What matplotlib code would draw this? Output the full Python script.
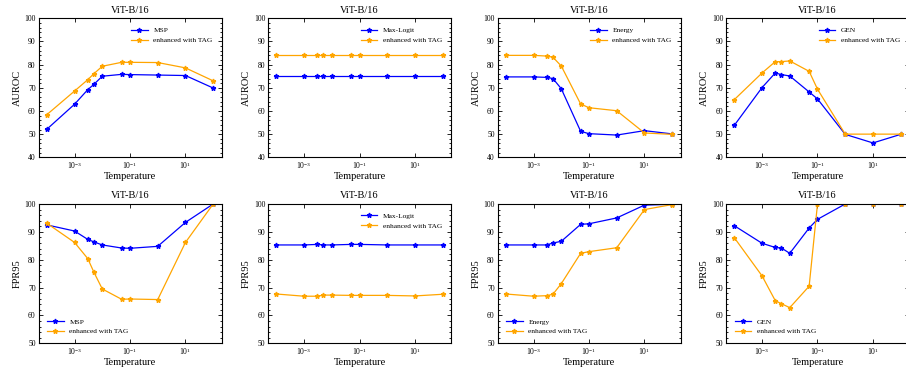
import matplotlib
matplotlib.use('Agg')
import matplotlib.pyplot as plt
from matplotlib.ticker import MultipleLocator, NullLocator

# temperatures used for every curve
temps = [1e-4, 1e-3, 3e-3, 5e-3, 1e-2, 5e-2, 1e-1, 1, 10, 100]

# AUROC
msp_auroc = [52.1, 62.9, 69.2, 71.5, 75.0, 75.8, 75.7, 75.5, 75.3, 69.9]
msp_tag_auroc = [58.4, 68.6, 73.5, 76.1, 79.3, 81.0, 81.0, 80.9, 78.6, 73.0]
maxlogit_auroc = [74.9, 74.9, 74.9, 74.9, 74.9, 74.9, 74.9, 74.9, 74.9, 74.9]
maxlogit_tag_auroc = [84.1, 84.1, 84.1, 84.1, 84.1, 84.1, 84.1, 84.1, 84.1, 84.1]
energy_auroc = [74.7, 74.7, 74.5, 74.0, 69.6, 51.2, 50.2, 49.6, 51.5, 50.1]
energy_tag_auroc = [84.0, 84.0, 83.7, 83.2, 79.4, 63.0, 61.4, 60.1, 50.5, 49.9]
gen_auroc = [53.8, 70.1, 76.4, 75.7, 75.1, 68.2, 65.2, 49.9, 46.2, 49.9]
gen_tag_auroc = [64.9, 76.4, 81.3, 81.3, 81.6, 77.1, 69.4, 50.0, 50.0, 50.0]

# FPR95
msp_fpr = [92.5, 90.3, 87.3, 86.4, 85.3, 84.2, 84.1, 84.8, 93.4, 100.0]
msp_tag_fpr = [93.1, 86.2, 80.4, 75.5, 69.5, 65.8, 65.9, 65.7, 86.2, 100.0]
maxlogit_fpr = [85.3, 85.3, 85.5, 85.3, 85.3, 85.5, 85.5, 85.3, 85.3, 85.3]
maxlogit_tag_fpr = [67.7, 66.9, 66.9, 67.3, 67.3, 67.2, 67.2, 67.2, 67.0, 67.6]
energy_fpr = [85.3, 85.3, 85.3, 86.0, 86.6, 92.7, 92.9, 95.0, 99.6, 99.9]
energy_tag_fpr = [67.7, 66.9, 67.1, 67.6, 71.4, 82.3, 82.9, 84.3, 98.0, 99.8]
gen_fpr = [92.2, 85.9, 84.4, 84.2, 82.3, 91.4, 94.5, 100.0, 100.0, 100.0]
gen_tag_fpr = [87.9, 74.2, 65.3, 64.2, 62.8, 70.5, 100.0, 100.0, 100.0, 100.0]

methods = ['MSP', 'Max-Logit', 'Energy', 'GEN']
auroc_base = [msp_auroc, maxlogit_auroc, energy_auroc, gen_auroc]
auroc_tag = [msp_tag_auroc, maxlogit_tag_auroc, energy_tag_auroc, gen_tag_auroc]
fpr_base = [msp_fpr, maxlogit_fpr, energy_fpr, gen_fpr]
fpr_tag = [msp_tag_fpr, maxlogit_tag_fpr, energy_tag_fpr, gen_tag_fpr]
fpr_legend_loc = ['lower left', 'upper right', 'lower left', 'lower left']

plt.rcParams['font.family'] = ['Liberation Serif', 'DejaVu Serif']
plt.rcParams['mathtext.fontset'] = 'stix'


def style_axis(ax, ylim, ylabel):
    """坐标轴样式：刻度朝内，四边都有刻度"""
    ax.set_xscale('log')
    ax.set_ylim(*ylim)
    ax.set_xticks([1e-3, 1e-1, 1e1])
    ax.xaxis.set_minor_locator(NullLocator())
    ax.yaxis.set_major_locator(MultipleLocator(10))
    ax.yaxis.set_minor_locator(MultipleLocator(2))
    ax.tick_params(which='both', direction='in', top=True, right=True,
                   labelsize=5.5, width=0.6, pad=2)
    ax.tick_params(which='major', length=3)
    ax.tick_params(which='minor', length=1.5)
    for s in ax.spines.values():
        s.set_linewidth(0.8)
    ax.set_xlabel('Temperature', fontsize=7.5, labelpad=1)
    ax.set_ylabel(ylabel, fontsize=7.5, labelpad=2)
    ax.set_title('ViT-B/16', fontsize=7.5, pad=4)


def draw(ax, base, tag, name, loc):
    ax.plot(temps, base, color='blue', marker='*', markersize=3.5,
            linewidth=0.9, label=name)
    ax.plot(temps, tag, color='orange', marker='*', markersize=3.5,
            linewidth=0.9, label='enhanced with TAG')
    ax.legend(loc=loc, frameon=False, fontsize=5.3, handlelength=2.2,
              borderaxespad=0.8)


fig = plt.figure(figsize=(9.06, 3.69), dpi=100)
W, H = 906.0, 369.0
lefts = [38.5, 268.0, 497.5, 726.0]
width = 183.0

for i in range(4):
    ax = fig.add_axes([lefts[i] / W, 1 - 157.3 / H, width / W, 139.0 / H])
    draw(ax, auroc_base[i], auroc_tag[i], methods[i], 'upper right')
    style_axis(ax, (40, 100), 'AUROC')

    ax = fig.add_axes([lefts[i] / W, 1 - 343.3 / H, width / W, 139.3 / H])
    draw(ax, fpr_base[i], fpr_tag[i], methods[i], fpr_legend_loc[i])
    style_axis(ax, (50, 100), 'FPR95')

fig.savefig('out.png', dpi=100)
